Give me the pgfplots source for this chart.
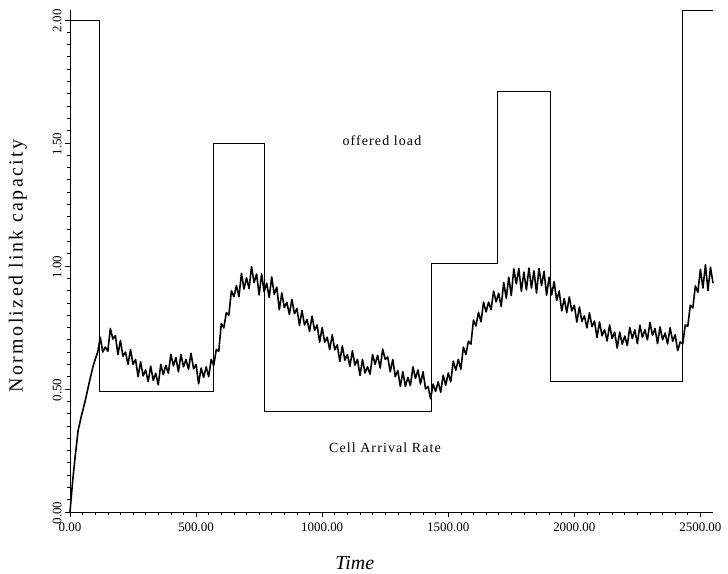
\documentclass[border=0pt]{standalone}
\usepackage{pgfplots}
\pgfplotsset{compat=1.18}
\usepackage{fontspec}
\setmainfont{Liberation Serif}
\newfontfamily\labelfont[LetterSpace=12]{Liberation Serif}
\newfontfamily\notefont[LetterSpace=8]{Liberation Serif}

\begin{document}
\begin{tikzpicture}
\useasboundingbox (-70bp,-62bp) rectangle (658bp,512bp);
\begin{axis}[
  at={(0,0)}, anchor=south west,
  scale only axis,
  width=643bp, height=502bp,
  xmin=0, xmax=2550,
  ymin=0, ymax=2.04,
  axis lines=left,
  axis line style={-, line width=0.7pt},
  clip=false,
  tick align=outside,
  major tick length=5bp,
  minor tick length=3bp,
  every tick/.style={black, line width=0.6pt},
  xtick={0,500,1000,1500,2000,2500},
  xticklabels={0.00,500.00,1000.00,1500.00,2000.00,2500.00},
  ytick={0,0.5,1,1.5,2},
  yticklabels={0.00,0.50,1.00,1.50,2.00},
  minor x tick num=9,
  minor y tick num=9,
  tick label style={font=\fontsize{13}{13}\selectfont},
  yticklabel style={rotate=90, anchor=south, xshift=-1bp},
  xticklabel style={yshift=-2bp},
  xlabel={\itshape Time},
  xlabel style={font=\fontsize{20}{20}\selectfont, at={(axis description cs:0.443,-0.102)}, anchor=center},
  ylabel={\labelfont Normolized link capacity},
  ylabel style={font=\fontsize{20}{20}\selectfont, at={(axis description cs:-0.081,0.49)}, anchor=center},
]

% offered load (piecewise constant)
\addplot[black, line width=0.6pt, line join=miter] coordinates {
  (0,2.00) (115,2.00) (115,0.49) (567,0.49) (567,1.50) (770,1.50)
  (770,0.41) (1432,0.41) (1432,1.01) (1695,1.01) (1695,1.71) (1905,1.71)
  (1905,0.53) (2428,0.53) (2428,2.04) (2550,2.04)
};

% measured cell arrival rate
\addplot[black, line width=1.6pt, line join=round] coordinates {
  (0,0.00) (10,0.12) (20,0.22) (32,0.33) (45,0.39) (60,0.45) (75,0.52)
  (91,0.59) (100,0.62) (110,0.65)
  (120,0.710) (130,0.650) (140,0.670) (150,0.653) (160,0.746) (170,0.703)
  (180,0.717) (190,0.640) (200,0.697) (210,0.633) (220,0.650) (230,0.600)
  (240,0.660) (250,0.600) (260,0.620) (270,0.550) (280,0.610) (290,0.553)
  (300,0.577) (310,0.530) (320,0.593) (330,0.535) (340,0.564) (350,0.517)
  (360,0.600) (370,0.558) (380,0.596) (390,0.564) (400,0.641) (410,0.594)
  (420,0.627) (430,0.570) (440,0.640) (450,0.590) (460,0.620) (470,0.580)
  (480,0.645) (490,0.582) (500,0.600) (510,0.521) (520,0.585) (530,0.547)
  (540,0.590) (550,0.550) (560,0.620) (570,0.595) (580,0.660) (590,0.653)
  (600,0.766) (610,0.748) (620,0.810) (630,0.800) (640,0.899) (650,0.875)
  (660,0.920) (670,0.875) (680,0.970) (690,0.906) (700,0.952) (710,0.908)
  (720,0.997) (730,0.932) (740,0.967) (750,0.882) (760,0.968) (770,0.894)
  (780,0.930) (790,0.872) (800,0.955) (810,0.885) (820,0.914) (830,0.822)
  (840,0.890) (850,0.831) (860,0.852) (870,0.803) (880,0.864) (890,0.806)
  (900,0.827) (910,0.758) (920,0.819) (930,0.760) (940,0.782) (950,0.734)
  (960,0.796) (970,0.738) (980,0.760) (990,0.690) (1000,0.750) (1010,0.690)
  (1020,0.710) (1030,0.660) (1040,0.720) (1050,0.659) (1060,0.679) (1070,0.612)
  (1080,0.675) (1090,0.617) (1100,0.640) (1110,0.592) (1120,0.655) (1130,0.597)
  (1140,0.620) (1150,0.555) (1160,0.620) (1170,0.565) (1180,0.590) (1190,0.560)
  (1200,0.640) (1210,0.600) (1220,0.637) (1230,0.585) (1240,0.662) (1250,0.620)
  (1260,0.630) (1270,0.570) (1280,0.620) (1290,0.550) (1300,0.575) (1310,0.510)
  (1320,0.570) (1330,0.510) (1340,0.547) (1350,0.514) (1360,0.590) (1370,0.543)
  (1380,0.577) (1390,0.520) (1400,0.570) (1410,0.500) (1420,0.510) (1430,0.460)
  (1440,0.520) (1450,0.490) (1460,0.529) (1470,0.487) (1480,0.556) (1490,0.515)
  (1500,0.565) (1510,0.529) (1520,0.613) (1530,0.576) (1540,0.620) (1550,0.580)
  (1560,0.670) (1570,0.640) (1580,0.694) (1590,0.682) (1600,0.780) (1610,0.756)
  (1620,0.812) (1630,0.773) (1640,0.853) (1650,0.813) (1660,0.853) (1670,0.822)
  (1680,0.898) (1690,0.854) (1700,0.889) (1710,0.835) (1720,0.933) (1730,0.869)
  (1740,0.954) (1750,0.880) (1760,0.988) (1770,0.927) (1780,0.989) (1790,0.897)
  (1800,0.975) (1810,0.903) (1820,0.991) (1830,0.910) (1840,0.980) (1850,0.890)
  (1860,0.990) (1870,0.920) (1880,0.978) (1890,0.881) (1900,0.954) (1910,0.882)
  (1920,0.936) (1930,0.860) (1940,0.898) (1950,0.817) (1960,0.867) (1970,0.810)
  (1980,0.874) (1990,0.817) (2000,0.840) (2010,0.772) (2020,0.833) (2030,0.775)
  (2040,0.797) (2050,0.748) (2060,0.810) (2070,0.753) (2080,0.776) (2090,0.709)
  (2100,0.772) (2110,0.716) (2120,0.741) (2130,0.695) (2140,0.760) (2150,0.705)
  (2160,0.731) (2170,0.666) (2180,0.731) (2190,0.682) (2200,0.715) (2210,0.677)
  (2220,0.750) (2230,0.705) (2240,0.740) (2250,0.684) (2260,0.759) (2270,0.710)
  (2280,0.740) (2290,0.700) (2300,0.770) (2310,0.718) (2320,0.746) (2330,0.684)
  (2340,0.752) (2350,0.700) (2360,0.727) (2370,0.683) (2380,0.749) (2390,0.694)
  (2400,0.720) (2410,0.656) (2420,0.691) (2430,0.683) (2440,0.760) (2450,0.755)
  (2460,0.840) (2470,0.829) (2480,0.919) (2490,0.893) (2500,0.986) (2510,0.910)
  (2520,1.005) (2530,0.900) (2540,0.995) (2550,0.930)
};

\node[font=\fontsize{14}{14}\selectfont] at (axis cs:1237,1.51) {\notefont offered load};
\node[font=\fontsize{14}{14}\selectfont] at (axis cs:1249,0.26) {\notefont Cell Arrival Rate};
\end{axis}
\end{tikzpicture}
\end{document}
